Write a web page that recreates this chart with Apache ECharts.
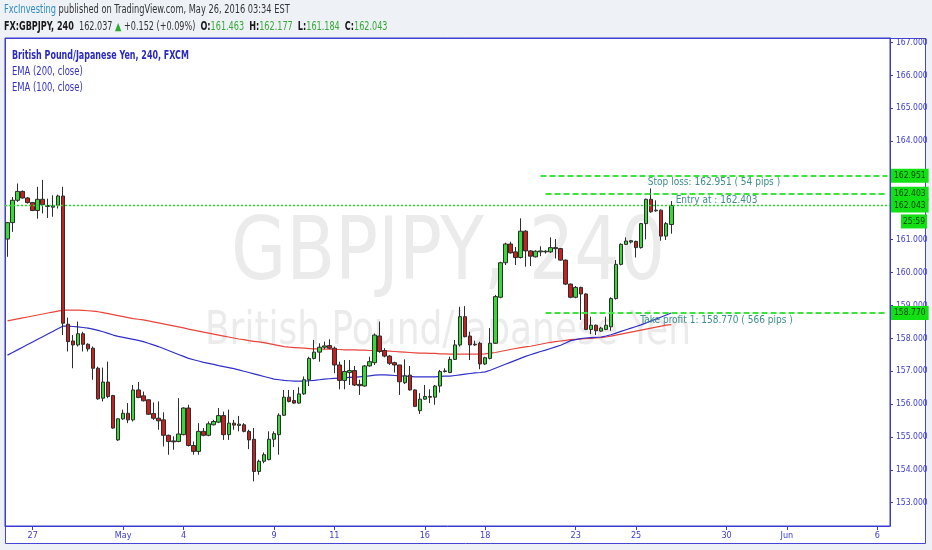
<!DOCTYPE html>
<html><head><meta charset="utf-8">
<script src="https://cdn.jsdelivr.net/npm/echarts@6/dist/echarts.min.js"></script>
<style>html,body{margin:0;padding:0;background:#eef1f6}#c{width:932px;height:550px}</style>
</head><body><div id="c"></div>
<script>
// ---------- data ----------
const tradingDays = ['Apr 26','Apr 27','Apr 28','Apr 29','May 2','May 3','May 4','May 5','May 6','May 9','May 10','May 11','May 12','May 13','May 16','May 17','May 18','May 19','May 20','May 23','May 24','May 25','May 26','May 27','May 30','May 31','Jun 1','Jun 2','Jun 3','Jun 6'];
const barHours = ['17:00','21:00','01:00','05:00','09:00','13:00'];
const tickDays = ['Apr 27','May 2','May 4','May 9','May 11','May 16','May 18','May 23','May 25','May 30','Jun 1','Jun 6'];
const tickLabels = ['27','May','4','9','11','16','18','23','25','30','Jun','6'];
const yTicks = [153,154,155,156,157,158,159,160,161,162,163,164,165,166,167];

const opens = [161.02,161.52,162.20,162.47,162.27,162.13,161.89,162.23,162.04,161.99,162.05,162.33,158.43,157.92,157.80,158.14,157.82,157.70,157.09,156.18,156.67,156.26,154.91,155.55,155.72,155.52,156.43,156.25,156.13,155.71,155.57,155.52,155.05,154.88,154.86,155.07,155.88,154.74,154.56,155.17,155.05,155.37,155.45,155.65,155.07,155.42,155.35,155.37,155.17,154.93,153.95,154.26,154.31,154.93,155.07,155.66,156.21,156.11,156.03,156.31,156.74,157.39,157.58,157.73,157.78,157.70,157.19,156.72,156.96,157.02,156.60,156.55,157.16,157.26,158.07,157.63,157.46,157.26,157.19,156.65,156.88,156.43,155.80,156.15,156.23,156.21,156.55,156.99,156.96,157.36,157.80,158.66,158.07,157.82,157.85,157.22,157.39,157.85,159.25,160.30,160.87,160.63,160.46,161.26,160.66,160.48,160.63,160.65,160.63,160.76,160.73,160.38,159.65,159.25,159.55,159.35,158.27,158.40,158.22,158.27,158.35,159.21,160.25,160.86,160.93,160.95,160.76,161.49,162.23,161.88,161.90,161.11,161.463];
const closes = [161.52,162.20,162.47,162.27,162.13,161.89,162.23,162.07,162.01,162.03,162.33,158.46,157.90,157.80,158.14,157.82,157.68,157.09,156.16,156.67,156.23,155.27,155.55,155.72,155.52,156.43,156.20,156.10,155.69,155.57,155.49,155.05,154.86,154.85,155.09,155.88,154.74,154.56,155.17,155.05,155.40,155.47,155.65,155.07,155.42,155.36,155.39,155.17,154.91,153.95,154.26,154.46,154.93,155.10,155.66,156.21,156.08,156.03,156.31,156.74,157.39,157.58,157.73,157.77,157.70,157.19,156.72,156.99,157.02,156.58,156.56,157.16,157.29,158.10,157.60,157.46,157.24,157.19,156.68,156.86,156.43,155.93,156.15,156.23,156.21,156.55,156.99,157.01,157.36,157.80,158.66,158.05,157.80,157.80,157.22,157.41,157.85,159.27,160.30,160.87,160.60,160.46,161.26,160.66,160.50,160.65,160.66,160.63,160.76,160.73,160.38,159.65,159.25,159.55,159.35,158.27,158.40,158.23,158.31,158.40,159.21,160.25,160.86,160.96,160.97,160.76,161.49,162.23,161.85,161.90,161.11,161.49,162.043];
const lows = [160.48,161.24,162.15,162.25,162.10,161.87,161.64,161.80,161.66,161.70,161.95,158.10,157.60,157.09,157.75,157.60,157.60,156.74,156.13,156.08,156.18,155.25,154.88,155.52,155.42,155.47,156.18,156.08,155.67,155.52,155.22,154.71,154.46,154.61,154.84,155.05,154.71,154.46,154.46,155.02,155.02,155.35,155.42,154.91,154.91,155.22,155.17,155.14,154.63,153.65,153.85,154.20,154.29,154.69,154.46,155.64,156.05,156.01,156.01,156.28,156.55,157.36,157.29,157.67,157.67,156.94,156.45,156.45,156.58,156.55,156.28,156.53,157.14,157.19,157.56,157.42,157.19,156.96,156.28,156.61,156.41,155.91,155.70,156.13,156.03,155.98,156.35,156.96,156.94,157.34,157.75,158.03,157.34,157.77,157.06,157.19,157.36,157.83,159.22,160.23,160.58,160.23,160.43,160.18,160.20,160.46,160.50,160.58,160.60,160.43,160.36,159.62,159.22,159.22,158.56,158.25,158.13,158.10,158.20,158.25,158.23,159.18,160.22,160.84,160.89,160.46,160.73,161.01,161.82,161.85,160.97,160.99,161.184];
const highs = [161.54,162.30,162.71,162.50,162.30,162.15,162.61,162.82,162.25,162.35,162.37,162.61,158.63,158.10,158.51,158.20,157.85,157.75,157.14,157.11,157.29,156.28,155.57,155.83,156.03,156.58,156.67,156.38,156.15,156.05,156.08,155.75,155.07,155.02,156.18,155.90,155.98,154.86,155.42,155.27,155.47,155.52,155.88,155.77,155.83,155.52,155.64,155.42,155.22,155.27,154.31,154.53,155.17,155.17,155.72,156.43,156.43,156.43,156.51,156.84,157.44,157.95,157.85,157.90,157.97,157.75,157.29,157.34,157.34,157.16,156.74,157.19,157.44,158.15,158.51,157.70,157.49,157.29,157.19,157.36,157.16,156.45,156.33,156.58,156.45,156.58,157.04,157.09,157.44,157.95,158.96,158.98,158.20,157.93,157.90,157.44,158.31,159.32,160.33,160.91,160.94,160.78,161.65,161.29,160.68,160.68,160.80,160.68,161.07,161.02,160.75,160.40,159.67,159.59,159.57,159.37,158.66,158.42,158.35,158.66,159.25,160.38,160.89,161.07,160.99,160.97,161.51,162.25,162.56,162.20,161.92,161.54,162.177];
const ema200 = [158.53,158.56,158.59,158.62,158.65,158.68,158.71,158.74,158.77,158.80,158.83,158.86,158.86,158.86,158.86,158.85,158.84,158.83,158.81,158.78,158.75,158.72,158.69,158.66,158.63,158.60,158.58,158.56,158.53,158.50,158.47,158.44,158.41,158.38,158.35,158.32,158.28,158.25,158.22,158.19,158.16,158.13,158.10,158.07,158.04,158.01,157.98,157.96,157.93,157.91,157.89,157.87,157.84,157.81,157.78,157.75,157.73,157.72,157.71,157.70,157.69,157.68,157.68,157.67,157.67,157.66,157.66,157.65,157.65,157.65,157.64,157.64,157.63,157.63,157.62,157.62,157.61,157.60,157.59,157.58,157.57,157.56,157.55,157.55,157.54,157.54,157.53,157.53,157.52,157.52,157.52,157.52,157.52,157.52,157.52,157.53,157.55,157.57,157.60,157.63,157.66,157.69,157.72,157.74,157.76,157.79,157.82,157.85,157.88,157.90,157.92,157.94,157.96,157.97,157.98,157.99,158.00,158.01,158.02,158.04,158.07,158.10,158.13,158.16,158.19,158.22,158.25,158.28,158.31,158.34,158.37,158.40,158.42];
const ema100 = [157.49,157.57,157.65,157.73,157.81,157.89,157.97,158.05,158.13,158.21,158.29,158.37,158.37,158.36,158.35,158.33,158.31,158.28,158.24,158.20,158.15,158.10,158.06,158.03,158.00,157.97,157.94,157.90,157.85,157.80,157.75,157.69,157.63,157.57,157.51,157.45,157.39,157.35,157.31,157.27,157.24,157.21,157.17,157.14,157.11,157.08,157.04,157.00,156.96,156.92,156.88,156.84,156.80,156.76,156.74,156.72,156.71,156.70,156.70,156.70,156.71,156.72,156.74,156.76,156.77,156.78,156.79,156.80,156.81,156.82,156.83,156.84,156.86,156.88,156.89,156.89,156.88,156.87,156.86,156.85,156.84,156.83,156.83,156.83,156.83,156.83,156.84,156.85,156.85,156.87,156.89,156.91,156.93,156.95,156.96,156.98,157.03,157.09,157.15,157.21,157.27,157.33,157.39,157.45,157.50,157.55,157.60,157.64,157.69,157.74,157.79,157.86,157.93,157.96,157.99,158.01,158.02,158.03,158.04,158.07,158.11,158.16,158.21,158.26,158.31,158.36,158.41,158.47,158.53,158.59,158.65,158.71,158.77];

const stopLoss = 162.951, entryPrice = 162.403, takeProfit = 158.770, lastPrice = 162.043;
const stopText = 'Stop loss: 162.951 ( 54 pips )';
const entryText = 'Entry at : 162.403';
const tpText = 'Take profit 1: 158.770 ( 566 pips )';
const countdown = '25:59';
const stopStartBar = 106, levelStartBar = 107;
const visibleBars = 176;

// ---------- build ----------
const categories = [];
tradingDays.forEach((d, i) => barHours.forEach((h, k) => { if (i === 0 && k === 0) return; categories.push(d + '|' + h); }));
const xCats = categories.slice(0, visibleBars);
const isTick = (v) => { const [d, h] = v.split('|'); return h === '17:00' && tickDays.indexOf(d) >= 0; };
const candleData = opens.map((o, i) => [o, closes[i], lows[i], highs[i]]);
const lastBar = xCats.length - 1;

const FONT = '"Liberation Sans Narrow","DejaVu Sans Condensed","Liberation Sans",sans-serif';
const BLUE = '#3c3cd2';
const GREEN_TAG = '#12e012';

const tag = (txt) => ({ show: true, position: 'end', distance: 1, formatter: txt, backgroundColor: GREEN_TAG,
  color: '#0b3d0b', fontSize: 8.5, fontFamily: FONT, padding: [3, 3, 2, 3] });
const mid = (txt) => ({ show: true, position: 'insideMiddleBottom', distance: 2, formatter: txt,
  color: '#3f8c8c', fontSize: 10, fontFamily: FONT });
const dash = { color: '#3ee23e', width: 2, type: [6, 3], opacity: 1 };
const hidden = { color: 'rgba(0,0,0,0)', width: 0 };

const chart = echarts.init(document.getElementById('c'), null, { renderer: 'canvas' });
const gridTop = 38, gridBottomPx = 526;
const option = {
  animation: false,
  backgroundColor: '#eef1f6',
  textStyle: { fontFamily: FONT },
  grid: { left: 5, right: 42, top: gridTop, bottom: 550 - gridBottomPx, outerBoundsMode: 'none', containLabel: false,
    show: true, borderColor: '#3a3ad0', borderWidth: 1, backgroundColor: 'transparent' },
  xAxis: {
    type: 'category', data: xCats, boundaryGap: true,
    axisLine: { show: true, lineStyle: { color: '#3a3ad0' } },
    axisTick: { show: true, alignWithLabel: true, length: 4, interval: (i, v) => isTick(v), lineStyle: { color: '#3a3ad0' } },
    axisLabel: { interval: (i, v) => isTick(v), formatter: (v) => { const d = v.split('|')[0]; return tickLabels[tickDays.indexOf(d)] || ''; },
      color: BLUE, fontSize: 9, margin: 5, fontFamily: FONT },
    splitLine: { show: false }
  },
  yAxis: {
    type: 'value', position: 'right', scale: true,
    min: 152.291, max: 167.137,
    axisLine: { show: true, lineStyle: { color: '#3a3ad0' } },
    axisTick: { show: true, length: 3, customValues: yTicks, lineStyle: { color: '#3a3ad0' } },
    axisLabel: { customValues: yTicks, formatter: (v) => v.toFixed(3), color: BLUE, fontSize: 8.5, margin: 6, fontFamily: FONT },
    splitLine: { show: false }
  },
  graphic: [
    { type: 'rect', id: 'frame', z: -10, shape: { x: 5.5, y: 38.5, width: 920, height: 505 }, style: { fill: '#ffffff', stroke: '#4646d4', lineWidth: 1 } },
    { type: 'text', id: 'wm1', z: 0, x: 448, y: 256, scaleX: 0.9, style: { text: 'GBPJPY, 240', fill: '#ebebeb', font: '88px ' + FONT, align: 'center', verticalAlign: 'middle' } },
    { type: 'text', id: 'wm2', z: 0, x: 448, y: 332, scaleX: 0.87, style: { text: 'British Pound/Japanese Yen', fill: '#ebebeb', font: '46px ' + FONT, align: 'center', verticalAlign: 'middle' } },
    { type: 'text', id: 'h1', x: 4, y: 10, scaleX: 0.765, style: { text: '{a|FxcInvesting}{b| published on TradingView.com, May 26, 2016 03:34 EST}', verticalAlign: 'middle', font: '12px ' + FONT,
      rich: { a: { fill: '#2f8bc6', font: '12px ' + FONT }, b: { fill: '#333333', font: '12px ' + FONT } } } },
    { type: 'text', id: 'h2', x: 4, y: 27, scaleX: 0.75, style: { text: '{k|FX:GBPJPY, 240}{n|  162.037 }{g|▲}{n| +0.152 (+0.09%)  }{k|O:}{v|161.463}{n|  }{k|H:}{v|162.177}{n|  }{k|L:}{v|161.184}{n|  }{k|C:}{v|162.043}',
      verticalAlign: 'middle', font: '12px ' + FONT,
      rich: { k: { fill: '#1a1a1a', font: 'bold 12px ' + FONT }, n: { fill: '#333333', font: '12px ' + FONT }, g: { fill: '#2fa82f', font: '11px "DejaVu Sans"' }, v: { fill: '#35a835', font: '12px ' + FONT } } } },
    { type: 'text', id: 'l1', x: 12, y: 56, scaleX: 0.74, style: { text: 'British Pound/Japanese Yen, 240, FXCM', fill: '#2a2abf', font: 'bold 12px ' + FONT, verticalAlign: 'middle' } },
    { type: 'text', id: 'l2', x: 12, y: 72, scaleX: 0.78, style: { text: 'EMA (200, close)', fill: '#3434c4', font: '12px ' + FONT, verticalAlign: 'middle' } },
    { type: 'text', id: 'l3', x: 12, y: 88, scaleX: 0.78, style: { text: 'EMA (100, close)', fill: '#3434c4', font: '12px ' + FONT, verticalAlign: 'middle' } }
  ],
  series: [
    { name: 'EMA (200, close)', type: 'line', data: ema200, showSymbol: false, symbol: 'none', z: 3,
      lineStyle: { color: '#e8453c', width: 1.2 }, silent: true },
    { name: 'EMA (100, close)', type: 'line', data: ema100, showSymbol: false, symbol: 'none', z: 3,
      lineStyle: { color: '#3030c8', width: 1.2 }, silent: true },
    { name: 'GBPJPY', type: 'candlestick', data: candleData, barWidth: 4, z: 4,
      itemStyle: { color: '#36d936', color0: '#c8201e', borderColor: '#2d2d2d', borderColor0: '#2d2d2d', borderWidth: 1 },
      markLine: {
        silent: true, symbol: ['none', 'none'], animation: false, z: 5,
        data: [
          { yAxis: lastPrice, lineStyle: { color: '#1ee01e', width: 1.3, type: [2, 2] }, label: tag(lastPrice.toFixed(3)) },
          [{ coord: [stopStartBar, stopLoss], lineStyle: dash, label: mid(stopText) }, { coord: [lastBar, stopLoss] }],
          [{ coord: [levelStartBar, entryPrice], lineStyle: dash, label: mid(entryText) }, { coord: [lastBar, entryPrice] }],
          [{ coord: [levelStartBar, takeProfit], lineStyle: dash, label: mid(tpText) }, { coord: [lastBar, takeProfit] }],
          { yAxis: stopLoss, lineStyle: hidden, label: tag(stopLoss.toFixed(3)) },
          { yAxis: entryPrice, lineStyle: hidden, label: tag(entryPrice.toFixed(3)) },
          { yAxis: takeProfit, lineStyle: hidden, label: tag(takeProfit.toFixed(3)) }
        ]
      }
    }
  ]
};
chart.setOption(option);
const yLast = chart.convertToPixel({ yAxisIndex: 0 }, lastPrice);
chart.setOption({ graphic: [{ type: 'text', id: 'cd', x: 901, y: yLast + 9, z: 10,
  style: { text: countdown, fill: '#0b3d0b', font: '8.5px ' + FONT, backgroundColor: GREEN_TAG, padding: [3, 2, 2, 2] } }] });
</script></body></html>
